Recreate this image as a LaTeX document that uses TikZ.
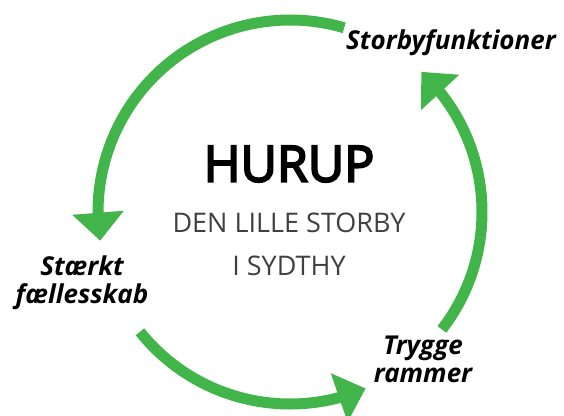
\documentclass[tikz,border=0pt]{standalone}
\usepackage{fontspec}
\setmainfont{Open Sans}
\newfontfamily\medsans{Open Sans}[FakeBold=4]
\usetikzlibrary{arrows.meta,bending}
\definecolor{cyclegreen}{RGB}{66,181,74}
\begin{document}
\begin{tikzpicture}[x=1pt, y=1pt]
\tikzstyle{cyclearrow}=[draw=cyclegreen, line width=11pt, -{Triangle[length=28pt, width=50pt, flex]}]
\tikzstyle{step label}=[font=\fontsize{26}{28}\selectfont\bfseries\itshape, align=center, inner sep=0pt]
\tikzstyle{title}=[font=\fontsize{50}{50}\selectfont\medsans, inner sep=0pt]
\tikzstyle{subtitle}=[font=\fontsize{27}{43}\selectfont, text=black!75, align=center, inner sep=0pt]
\useasboundingbox (0,0) rectangle (564,-415);

\coordinate (mid) at (290,-212);
\node[title] (hurup) at (289,-164) {HURUP};
\node[subtitle] (sub) at (289,-244) {DEN LILLE STORBY\\I SYDTHY};

\node[step label] (storby) at (451,-43) {Storbyfunktioner};
\node[step label] (faelles) at (82,-283) {Stærkt\\fællesskab};
\node[step label] (tryg) at (423,-359) {Trygge\\rammer};

\draw[cyclearrow] ([shift={(73.6:192)}]mid) arc[start angle=73.6, end angle=188.6, radius=192];
\draw[cyclearrow] ([shift={(-37.7:192)}]mid) arc[start angle=-37.7, end angle=46.9, radius=192];
\draw[cyclearrow] ([shift={(218.6:192)}]mid) arc[start angle=218.6, end angle=293.2, radius=192];

\end{tikzpicture}
\end{document}
